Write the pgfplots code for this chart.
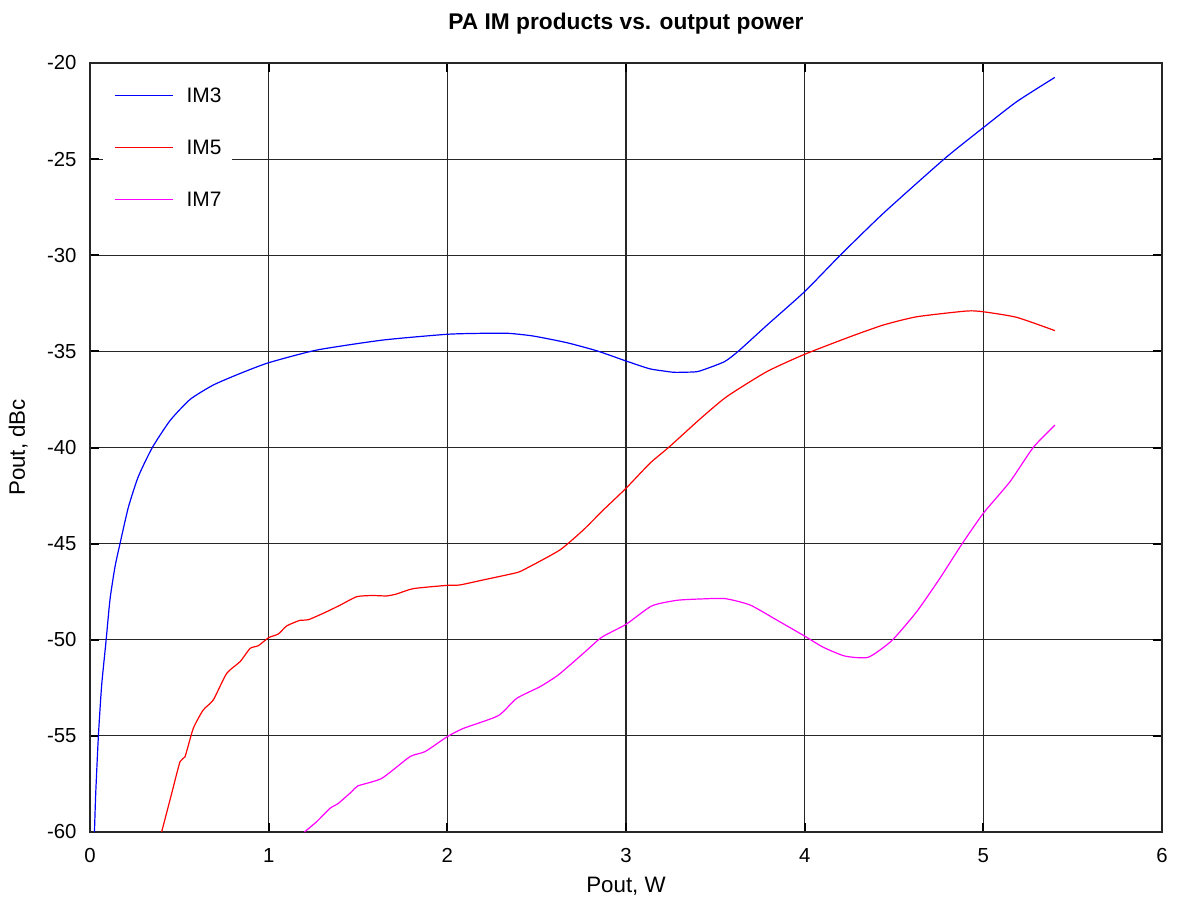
\documentclass[border=0pt]{standalone}
\usepackage{fontspec}
\setmainfont{Liberation Sans}
\usepackage{pgfplots}
\pgfplotsset{compat=1.18}

\definecolor{gridc}{RGB}{38,38,38}
\definecolor{im3}{RGB}{0,0,255}
\definecolor{im5}{RGB}{255,0,0}
\definecolor{im7}{RGB}{255,0,255}

\begin{document}
\begin{tikzpicture}
\useasboundingbox (-45bp,-34bp) rectangle (555bp,416bp);
\begin{axis}[
  at={(0,0)}, anchor=south west,
  scale only axis, width=536bp, height=384.5bp,
  xmin=0, xmax=6, ymin=-60, ymax=-20,
  xtick={0,1,2,3,4,5,6},
  xticklabels={0,1,2,3,4,5,6},
  ytick={-60,-55,-50,-45,-40,-35,-30,-25,-20},
  yticklabels={-60,-55,-50,-45,-40,-35,-30,-25,-20},
  grid=major,
  grid style={gridc, line width=0.55bp},
  axis line style={gridc, line width=0.6bp},
  tick align=inside,
  major tick length=4.7bp,
  major tick style={black, line width=1bp},
  ticklabel style={font=\fontsize{10.2}{12}\selectfont, inner sep=0pt},
  xticklabel style={anchor=base, yshift=-15.1bp},
  yticklabel style={anchor=east, xshift=-6.6bp},
  title={PA IM products vs. output power},
  title style={at={(axis description cs:0.5,1)}, anchor=base, yshift=10.6bp,
    font=\bfseries\fontsize{11.4}{13}\selectfont, inner sep=0pt},
  xlabel={Pout, W},
  xlabel style={at={(axis description cs:0.5,0)}, anchor=base, yshift=-30bp,
    font=\fontsize{11.2}{13}\selectfont, inner sep=0pt},
  ylabel={Pout, dBc},
  ylabel style={at={(axis description cs:0,0.5)}, anchor=base, rotate=0,
    font=\fontsize{11.2}{13}\selectfont, inner sep=0pt, yshift=32.5bp},
  legend cell align=left,
  legend image code/.code={\draw[#1] (0bp,0bp) -- (29bp,0bp);},
  legend style={at={(axis description cs:0,1)}, anchor=north west,
    xshift=6.5bp, yshift=-6.25bp, draw=none, fill=white,
    inner xsep=5.5bp, inner ysep=6bp, column sep=6.5bp, row sep=18.5bp,
    nodes={inner sep=0pt, text height=7.5bp, text depth=0pt,
      font=\fontsize{10.5}{12}\selectfont}},
  every axis plot/.append style={line width=0.6bp, smooth, tension=0.35},
]
\addplot[im3] coordinates {
(0.025,-60) (0.032,-58) (0.047,-55) (0.065,-52.4) (0.09,-50.05) (0.112,-47.9)
(0.14,-46.2) (0.168,-45) (0.215,-43.1) (0.271,-41.5) (0.349,-40) (0.448,-38.6)
(0.56,-37.5) (0.69,-36.75) (0.84,-36.15) (1.0,-35.59) (1.27,-34.93)
(1.64,-34.41) (2.0,-34.11) (2.2,-34.06) (2.34,-34.06) (2.48,-34.2)
(2.67,-34.55) (2.84,-34.98) (3.0,-35.5) (3.13,-35.9) (3.21,-36.02)
(3.27,-36.09) (3.35,-36.08) (3.41,-36.03) (3.55,-35.54) (3.63,-34.98)
(3.79,-33.63) (4.0,-31.89) (4.2,-29.99) (4.44,-27.82) (4.785,-24.96)
(5.0,-23.36) (5.187,-22.01) (5.4,-20.75)
};
\addlegendentry{IM3}
\addplot[im5] coordinates {
(0.401,-60) (0.457,-58) (0.504,-56.34) (0.532,-56.08) (0.578,-54.61)
(0.634,-53.65) (0.69,-53.13) (0.765,-51.75) (0.84,-51.14) (0.896,-50.45)
(0.942,-50.31) (1.0,-49.89) (1.054,-49.7) (1.101,-49.28) (1.175,-48.99)
(1.222,-48.96) (1.325,-48.54) (1.4,-48.2) (1.493,-47.76) (1.58,-47.7)
(1.66,-47.72) (1.716,-47.62) (1.81,-47.34) (2.0,-47.17) (2.07,-47.15)
(2.2,-46.89) (2.388,-46.51) (2.444,-46.28) (2.63,-45.33) (2.761,-44.29)
(2.873,-43.25) (3.0,-42.12) (3.134,-40.82) (3.243,-39.96) (3.414,-38.52)
(3.563,-37.36) (3.787,-36.06) (4.0,-35.15) (4.254,-34.24) (4.44,-33.63)
(4.627,-33.2) (4.907,-32.9) (5.0,-32.94) (5.187,-33.23) (5.4,-33.92)
};
\addlegendentry{IM5}
\addplot[im7] coordinates {
(1.2,-60) (1.269,-59.46) (1.343,-58.77) (1.39,-58.51) (1.465,-57.9)
(1.5,-57.6) (1.633,-57.21) (1.791,-56.08) (1.875,-55.82) (2.0,-55.04)
(2.09,-54.61) (2.285,-53.95) (2.388,-53.05) (2.519,-52.44) (2.621,-51.83)
(2.761,-50.71) (2.864,-49.87) (3.0,-49.2) (3.144,-48.24) (3.284,-47.95)
(3.414,-47.88) (3.554,-47.86) (3.694,-48.19) (3.843,-48.97) (4.0,-49.81)
(4.104,-50.39) (4.226,-50.85) (4.356,-50.91) (4.487,-50.05) (4.627,-48.54)
(4.757,-46.8) (4.879,-45.04) (5.0,-43.42) (5.149,-41.78) (5.28,-39.99)
(5.401,-38.83)
};
\addlegendentry{IM7}
\end{axis}
\end{tikzpicture}
\end{document}
